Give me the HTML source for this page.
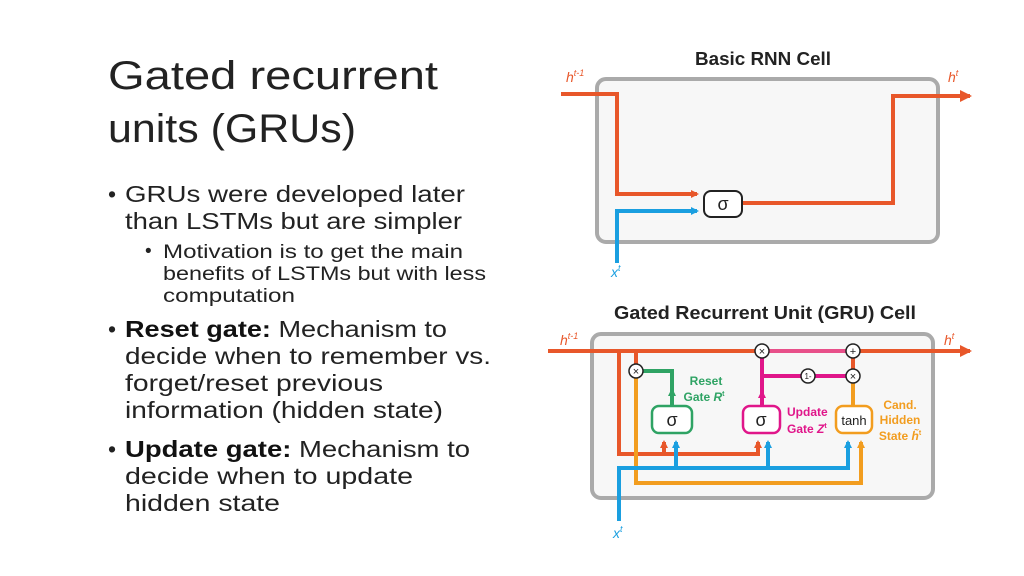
<!DOCTYPE html>
<html><head><meta charset="utf-8"><style>
html,body{margin:0;padding:0;background:#fff;}
svg{display:block;font-family:"Liberation Sans",sans-serif;}
</style></head><body>
<svg width="1024" height="576" viewBox="0 0 1024 576" xmlns="http://www.w3.org/2000/svg">
<defs>
<marker id="ao" markerWidth="8" markerHeight="8" refX="6" refY="4" orient="auto" markerUnits="userSpaceOnUse"><path d="M0,0 L8,4 L0,8 Z" fill="#e8572a"/></marker>
<marker id="ab" markerWidth="8" markerHeight="8" refX="6" refY="4" orient="auto" markerUnits="userSpaceOnUse"><path d="M0,0 L8,4 L0,8 Z" fill="#1a9fe0"/></marker>
<marker id="ay" markerWidth="8" markerHeight="8" refX="6" refY="4" orient="auto" markerUnits="userSpaceOnUse"><path d="M0,0 L8,4 L0,8 Z" fill="#f29d1f"/></marker>
<marker id="ag" markerWidth="8" markerHeight="8" refX="4" refY="4" orient="auto" markerUnits="userSpaceOnUse"><path d="M0,0 L8,4 L0,8 Z" fill="#2fa364"/></marker>
<marker id="ap" markerWidth="8" markerHeight="8" refX="4" refY="4" orient="auto" markerUnits="userSpaceOnUse"><path d="M0,0 L8,4 L0,8 Z" fill="#e0168a"/></marker>
<marker id="aoL" markerWidth="12" markerHeight="12" refX="10" refY="6" orient="auto" markerUnits="userSpaceOnUse"><path d="M0,0 L12,6 L0,12 Z" fill="#e8572a"/></marker>
</defs>

<g fill="#222">
<text x="108" y="89" font-size="40" textLength="330" lengthAdjust="spacingAndGlyphs">Gated recurrent</text>
<text x="108" y="142" font-size="40" textLength="248" lengthAdjust="spacingAndGlyphs">units (GRUs)</text>
<g font-size="23">
<text x="108" y="202">•</text>
<text x="125" y="202" textLength="340" lengthAdjust="spacingAndGlyphs">GRUs were developed later</text>
<text x="125" y="229" textLength="337" lengthAdjust="spacingAndGlyphs">than LSTMs but are simpler</text>
</g>
<g font-size="19">
<text x="145" y="257">•</text>
<text x="163" y="258" textLength="300" lengthAdjust="spacingAndGlyphs">Motivation is to get the main</text>
<text x="163" y="280" textLength="323" lengthAdjust="spacingAndGlyphs">benefits of LSTMs but with less</text>
<text x="163" y="302" textLength="132" lengthAdjust="spacingAndGlyphs">computation</text>
</g>
<g font-size="23">
<text x="108" y="337">•</text>
<text x="125" y="337" textLength="322" lengthAdjust="spacingAndGlyphs"><tspan font-weight="bold" fill="#111">Reset gate:</tspan> Mechanism to</text>
<text x="125" y="364" textLength="366" lengthAdjust="spacingAndGlyphs">decide when to remember vs.</text>
<text x="125" y="391" textLength="258" lengthAdjust="spacingAndGlyphs">forget/reset previous</text>
<text x="125" y="418" textLength="318" lengthAdjust="spacingAndGlyphs">information (hidden state)</text>
<text x="108" y="457">•</text>
<text x="125" y="457" textLength="345" lengthAdjust="spacingAndGlyphs"><tspan font-weight="bold" fill="#111">Update gate:</tspan> Mechanism to</text>
<text x="125" y="484" textLength="288" lengthAdjust="spacingAndGlyphs">decide when to update</text>
<text x="125" y="511" textLength="155" lengthAdjust="spacingAndGlyphs">hidden state</text>
</g>
</g>

<text x="763" y="65" font-size="18" font-weight="bold" text-anchor="middle" fill="#222" textLength="136" lengthAdjust="spacingAndGlyphs">Basic RNN Cell</text>
<rect x="597" y="79" width="341" height="163" rx="9" fill="#f7f7f7" stroke="#aaa" stroke-width="4"/>
<path d="M561,94 H617 V194 H697" fill="none" stroke="#e8572a" stroke-width="4" marker-end="url(#ao)"/>
<path d="M617,263 V211 H697" fill="none" stroke="#1a9fe0" stroke-width="4" marker-end="url(#ab)"/>
<path d="M742,203 H893 V96 H970" fill="none" stroke="#e8572a" stroke-width="4" marker-end="url(#aoL)"/>
<rect x="704" y="191" width="38" height="26" rx="7" fill="#fff" stroke="#222" stroke-width="2"/>
<text x="723" y="210" font-size="18" text-anchor="middle" fill="#222">σ</text>
<text x="566" y="82" font-size="14" font-style="italic" fill="#e8572a">h<tspan font-size="9" dy="-6">t-1</tspan></text>
<text x="948" y="82" font-size="14" font-style="italic" fill="#e8572a">h<tspan font-size="9" dy="-6">t</tspan></text>
<text x="611" y="277" font-size="14" font-style="italic" fill="#1a9fe0">x<tspan font-size="9" dy="-6">t</tspan></text>

<text x="765" y="319" font-size="18" font-weight="bold" text-anchor="middle" fill="#222" textLength="302" lengthAdjust="spacingAndGlyphs">Gated Recurrent Unit (GRU) Cell</text>
<rect x="592" y="334" width="341" height="164" rx="9" fill="#f7f7f7" stroke="#aaa" stroke-width="4"/>
<path d="M548,351 H970" fill="none" stroke="#e8572a" stroke-width="4" marker-end="url(#aoL)"/>
<path d="M762,351 H853" stroke="#e8508a" stroke-width="4"/>
<path d="M619,351 V454 H758 V442" fill="none" stroke="#e8572a" stroke-width="4" marker-end="url(#ao)"/>
<path d="M664,454 V442" fill="none" stroke="#e8572a" stroke-width="4" marker-end="url(#ao)"/>
<path d="M636,351 V364" stroke="#e8572a" stroke-width="4"/>
<path d="M636,378 V483 H861 V442" fill="none" stroke="#f29d1f" stroke-width="4" marker-end="url(#ay)"/>
<path d="M853,406 V383" stroke="#f29d1f" stroke-width="4"/>
<path d="M853,358 V369" stroke="#e8572a" stroke-width="4"/>
<path d="M619,521 V468 H848 V442" fill="none" stroke="#1a9fe0" stroke-width="4" marker-end="url(#ab)"/>
<path d="M676,468 V442" fill="none" stroke="#1a9fe0" stroke-width="4" marker-end="url(#ab)"/>
<path d="M768,468 V442" fill="none" stroke="#1a9fe0" stroke-width="4" marker-end="url(#ab)"/>
<path d="M643,371 H672 V406" fill="none" stroke="#2fa364" stroke-width="4"/>
<path d="M672,402 V392" fill="none" stroke="#2fa364" stroke-width="4" marker-end="url(#ag)"/>
<path d="M762,406 V358" fill="none" stroke="#e0168a" stroke-width="4"/>
<path d="M762,402 V394" fill="none" stroke="#e0168a" stroke-width="4" marker-end="url(#ap)"/>
<path d="M762,376 H846" fill="none" stroke="#e0168a" stroke-width="4"/>
<rect x="652" y="406" width="40" height="27" rx="7" fill="#fff" stroke="#2fa364" stroke-width="2.5"/>
<text x="672" y="426" font-size="18" text-anchor="middle" fill="#222">σ</text>
<rect x="743" y="406" width="37" height="27" rx="7" fill="#fff" stroke="#e0168a" stroke-width="2.5"/>
<text x="761" y="426" font-size="18" text-anchor="middle" fill="#222">σ</text>
<rect x="836" y="406" width="36" height="27" rx="7" fill="#fff" stroke="#f29d1f" stroke-width="2.5"/>
<text x="854" y="425" font-size="13" text-anchor="middle" fill="#222">tanh</text>
<g stroke="#222" stroke-width="1.5" fill="#fff">
<circle cx="636" cy="371" r="7"/><circle cx="762" cy="351" r="7"/><circle cx="853" cy="351" r="7"/><circle cx="853" cy="376" r="7"/><circle cx="808" cy="376" r="7"/>
</g>
<g font-size="11" text-anchor="middle" fill="#222">
<text x="636" y="375">×</text><text x="762" y="355">×</text><text x="853" y="355">+</text><text x="853" y="380">×</text><text x="808" y="379" font-size="8">1-</text>
</g>
<g font-size="12" font-weight="bold">
<text x="706" y="385" fill="#2fa364" text-anchor="middle">Reset</text>
<text x="704" y="401" fill="#2fa364" text-anchor="middle">Gate <tspan font-style="italic">R</tspan><tspan font-size="7" dy="-5">t</tspan></text>
<text x="787" y="416" fill="#e0168a">Update</text>
<text x="787" y="433" fill="#e0168a">Gate <tspan font-style="italic">Z</tspan><tspan font-size="7" dy="-5">t</tspan></text>
<text x="900" y="409" fill="#f29d1f" text-anchor="middle">Cand.</text>
<text x="900" y="424" fill="#f29d1f" text-anchor="middle">Hidden</text>
<text x="900" y="440" fill="#f29d1f" text-anchor="middle">State <tspan font-style="italic">h̃</tspan><tspan font-size="7" dy="-5">t</tspan></text>
</g>
<text x="560" y="345" font-size="14" font-style="italic" fill="#e8572a">h<tspan font-size="9" dy="-6">t-1</tspan></text>
<text x="944" y="345" font-size="14" font-style="italic" fill="#e8572a">h<tspan font-size="9" dy="-6">t</tspan></text>
<text x="613" y="538" font-size="14" font-style="italic" fill="#1a9fe0">x<tspan font-size="9" dy="-6">t</tspan></text>
</svg>
</body></html>
